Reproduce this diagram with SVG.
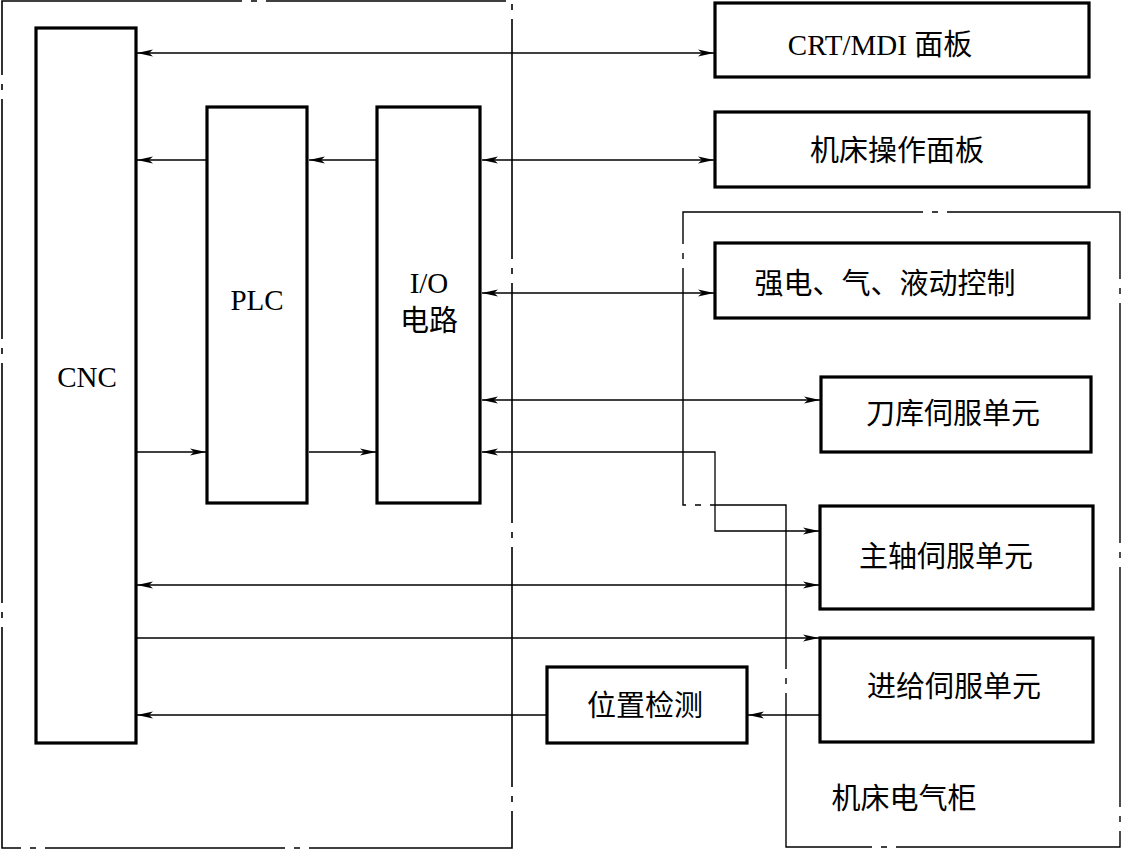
<svg xmlns="http://www.w3.org/2000/svg" width="1123" height="850" viewBox="0 0 1123 850">
<defs>
<marker id="ah" viewBox="0 0 16 8" refX="16" refY="4" markerWidth="16" markerHeight="8" markerUnits="userSpaceOnUse" orient="auto-start-reverse">
<path d="M0,0.5 L16,4 L0,7.5 L4,4 z" fill="#000"/>
</marker>
</defs>
<style>
.box{fill:#fff;stroke:#000;stroke-width:3.2}
.bnd{fill:none;stroke:#000;stroke-width:1.4;stroke-dasharray:240 9 6 9}
.ln{fill:none;stroke:#000;stroke-width:1.3}
.t{font-family:"Liberation Serif","Noto Sans CJK SC",serif;font-size:29px;fill:#000;text-anchor:middle}
</style>
<rect width="1123" height="850" fill="#fff"/>
<g id="boundaries">
<path class="bnd" d="M2,1 H512 V848 H2 Z" style="stroke-width:1.6"/>
<path class="bnd" d="M683,212 H1120 V847 H786 V505 H683 Z"/>
</g>
<g id="connectors">
<path class="ln" d="M137,53 H714" marker-start="url(#ah)" marker-end="url(#ah)"/>
<path class="ln" d="M206,160 H137" marker-end="url(#ah)"/>
<path class="ln" d="M376,160 H309" marker-end="url(#ah)"/>
<path class="ln" d="M482,160 H714" marker-start="url(#ah)" marker-end="url(#ah)"/>
<path class="ln" d="M482,293 H714" marker-start="url(#ah)" marker-end="url(#ah)"/>
<path class="ln" d="M482,400 H820" marker-start="url(#ah)" marker-end="url(#ah)"/>
<path class="ln" d="M482,452 H715 V531 H819" marker-start="url(#ah)" marker-end="url(#ah)"/>
<path class="ln" d="M137,452 H206" marker-end="url(#ah)"/>
<path class="ln" d="M309,452 H376" marker-end="url(#ah)"/>
<path class="ln" d="M137,585 H819" marker-start="url(#ah)" marker-end="url(#ah)"/>
<path class="ln" d="M137,638 H819" marker-end="url(#ah)"/>
<path class="ln" d="M819,715 H748" marker-end="url(#ah)"/>
<path class="ln" d="M546,715 H137" marker-end="url(#ah)"/>
</g>
<g id="cnc"><rect class="box" x="36" y="28" width="100" height="715"/><text class="t" x="87" y="387">CNC</text></g>
<g id="plc"><rect class="box" x="207" y="107" width="100" height="396"/><text class="t" x="257" y="310">PLC</text></g>
<g id="io"><rect class="box" x="377" y="107" width="103" height="396"/><text class="t" x="429" y="293">I/O</text><text class="t" x="429" y="331">电路</text></g>
<g id="crt"><rect class="box" x="715" y="3" width="374" height="74"/><text class="t" x="880" y="55">CRT/MDI 面板</text></g>
<g id="panel"><rect class="box" x="715" y="112" width="374" height="75"/><text class="t" x="897" y="161">机床操作面板</text></g>
<g id="power"><rect class="box" x="715" y="243" width="374" height="75"/><text class="t" x="885" y="294">强电、气、液动控制</text></g>
<g id="tool"><rect class="box" x="821" y="377" width="270" height="75"/><text class="t" x="953" y="424">刀库伺服单元</text></g>
<g id="spindle"><rect class="box" x="820" y="506" width="273" height="103"/><text class="t" x="946" y="567">主轴伺服单元</text></g>
<g id="feed"><rect class="box" x="820" y="638" width="273" height="104"/><text class="t" x="954" y="697">进给伺服单元</text></g>
<g id="pos"><rect class="box" x="547" y="667" width="200" height="76"/><text class="t" x="645" y="716">位置检测</text></g>
<g id="cabinet-label"><text class="t" x="904" y="809">机床电气柜</text></g>
</svg>
